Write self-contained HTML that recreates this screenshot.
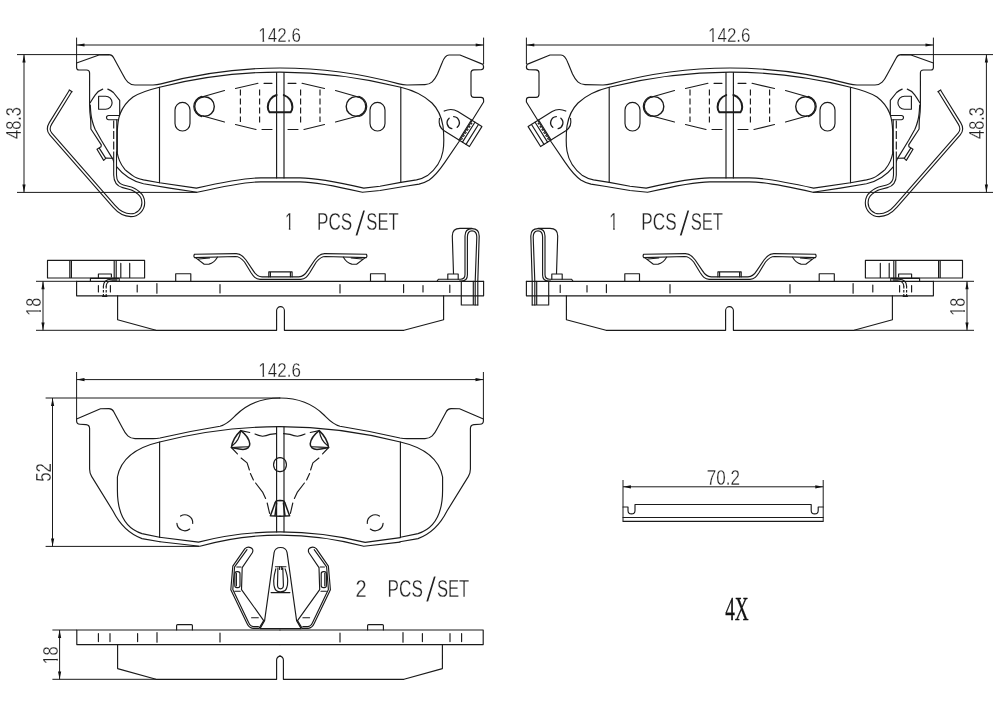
<!DOCTYPE html>
<html lang="en">
<head>
<meta charset="utf-8">
<title>Brake pad drawing</title>
<style>
html,body{margin:0;padding:0;background:#fff;}
body{width:1000px;height:707px;overflow:hidden;}
svg{display:block;}
.ln{fill:none;stroke:#1a1a1a;stroke-width:1.15;stroke-linecap:round;stroke-linejoin:round;}
.thin{fill:none;stroke:#1a1a1a;stroke-width:1;}
.thk{fill:none;stroke:#1c1c1c;stroke-width:1.9;stroke-linejoin:round;stroke-linecap:round;}
.dsh{fill:none;stroke:#1a1a1a;stroke-width:1.15;stroke-dasharray:6 3;}
.wo{fill:none;stroke:#1a1a1a;stroke-width:3.9;stroke-linecap:butt;stroke-linejoin:round;}
.wi{fill:none;stroke:#fff;stroke-width:1.7;stroke-linecap:butt;stroke-linejoin:round;}
.ar{fill:#111;stroke:none;}
text{font-family:"Liberation Sans",sans-serif;fill:#222;stroke:#fff;paint-order:fill stroke;stroke-linejoin:round;}
.ser{font-family:"Liberation Serif",serif;fill:#111;stroke:#111;stroke-width:.3;}
</style>
</head>
<body>
<svg width="1000" height="707" viewBox="0 0 1000 707">
<rect x="0" y="0" width="1000" height="707" fill="#fff"/>
<defs>
<!-- ================= PAD A : FRONT VIEW ================= -->
<g id="padA">
  <!-- backing plate outline -->
  <path class="ln" d="M76.6,63 L99,55 L109,54.6 Q112,54.6 113.5,57.5 L122.5,74 C126,81 129,85 135,85 L153,85 Q157,85 161,83.9 A453,453 0 0 1 399,83.9 Q403,85 407,85 L425,84.6 C431,84.6 434,81 437.5,74 L442,63 Q445,55 449,55 L460,55 L483,64.4 L483.6,67 Q483.6,69.6 481,69.8 L474,69.9 Q471,69.9 471,73 L471,94.2 Q471,97.3 474,97.3 L481,97.4 Q483.6,97.5 483.6,100 L483.6,102 L458.9,141.7 L444.5,162.9 C440,169.5 435,176 429.2,179.9 C425,182.5 421,183.6 419,184.1 L405.4,186.2 L380,190.5 L362.4,192.3 Q318,181.8 300.1,181.8 L260.8,181.8 Q243,181.8 197.1,192.3 L169.7,188.1 L143.5,183.7 C134,181.5 124,176 116.3,166.3 Q113.5,162 112.4,158.2 L106,158.1 L103.7,160.4 L97,149.2 L101,146.8 L101.3,144.9 L90.9,129 L90.7,120 Q89.6,112 89.6,105 L89.6,73 Q89.6,70 86.5,70 L79,70 Q76.6,70 76.6,67.5 Z"/>
  <!-- friction material outline -->
  <path class="ln" d="M159.5,87.2 A495,495 0 0 1 400.8,87.3 C414,90.5 425,96.5 432,103 C438,109 441.5,117 443,126 Q443.8,133 443.8,140 Q443.8,146 443,151 C441.5,160 436,169 427.5,175.6 C423,178.6 419,179.4 416.5,179.9 L400.8,182.4 L380,186.2 L363.8,188.1 Q319,177.9 300.1,177.9 L260.8,177.9 Q242,177.9 196.4,188.1 L159.5,182.7 L143.5,179.9 C138,178.6 135,177.4 132.7,175.6 C129,172.8 127,171.5 125,169.6 C122.5,166.5 120.8,164 119.6,160.9 Q118,157 117.3,153.3 L117.3,131 C117.6,124 118.6,118 120,114 C122.5,107.5 127,101.5 133,97 C139,93 148,90 159.5,87.2 Z"/>
  <!-- segment lines -->
  <path class="ln" d="M159.5,87.2 V182.7 M400.8,87.3 V182.5 M276.6,72.5 V177.9 M284,72.5 V177.9"/>
  <!-- stadium slots -->
  <rect class="ln" x="175" y="102.4" width="15" height="28.6" rx="7.5" ry="7.5"/>
  <rect class="ln" x="370" y="102.4" width="15" height="28.6" rx="7.5" ry="7.5"/>
  <!-- circles -->
  <circle class="ln" cx="204.5" cy="106.5" r="9.8" style="stroke-width:1.4"/>
  <circle class="ln" cx="356" cy="106.4" r="9.8" style="stroke-width:1.4"/>
  <path class="ln" d="M201.7,96.4 A10.4,10.4 0 0 0 201.7,116.6 M358.8,96.3 A10.4,10.4 0 0 1 358.8,116.5"/>
  <!-- hidden spring outline (long dashes) -->
  <path class="ln" d="M200,97.5 L224.5,90.5 M235.5,88.5 L258,83.3 M264,83.3 H272 M288,83.3 H296 M302,83.3 L324.5,88.5 M335.5,90.5 L360,97.5
                     M203,116 L224.5,122 M235.5,124.5 L256,129.5 M262,129.5 H272 M288,129.5 H298 M304,129.5 L324.5,124.5 M335.5,122 L358,116"/>
  <path class="dsh" d="M240.4,89.5 V122 M259.6,89.5 V125.5 M300.6,89.5 V125.5 M320,89.5 V122"/>
  <!-- D hole centre -->
  <path class="thk" style="stroke-width:2" d="M276.6,95 A12.3,12.5 0 0 0 267.8,107 Q267.8,110.4 269.6,112.3 L290.6,112.3 Q292.4,110.4 292.4,107 A12.3,12.5 0 0 0 283.8,95.1"/>
  <!-- left clip (hidden) + D + tabs -->
  <path class="ln" d="M90.2,102.7 Q93,98 95.3,94.8 Q98.5,90.5 102.7,89.1 M107.8,89.1 Q111,90.3 113.4,92.5 L119.7,100.4 L119.7,114.6"/>
  <path class="ln" d="M90.3,105 C90.6,112 91.2,117 92,120 Q93.2,125 95.1,129.3 L101.3,140.2 L112.2,158.1"/>
  <path class="ln" d="M99.4,148.4 L105.6,158.1"/>
  <path class="ln" d="M98.6,96.2 V109.2 H105.6 A6.5,6.5 0 0 0 105.6,96.2 Z"/>
  <path class="ln" d="M119.2,115.5 H108.6 A2.1,2.1 0 0 0 108.6,119.7 H117.4"/>
  <path class="dsh" style="stroke-dasharray:8 2.5" d="M113.7,120.5 V151"/>
  <path class="ln" d="M116.8,119.7 V152"/>
  <!-- spring wire -->
  <path class="wo" d="M70.7,90.8 L50.5,123.4 Q46.8,129.4 50.8,134 L114,206.3 C118.5,211.5 124,215.2 130.8,215.2 A12.5,12.5 0 0 0 143.3,202.7 A12.5,12.5 0 0 0 138.8,193.1 C136.5,191.2 134,189.2 131,188.4 L123,186.3 C118,185 115.2,182 115.1,175 L115.1,151.5"/>
  <path class="wi" d="M70.7,90.8 L50.5,123.4 Q46.8,129.4 50.8,134 L114,206.3 C118.5,211.5 124,215.2 130.8,215.2 A12.5,12.5 0 0 0 143.3,202.7 A12.5,12.5 0 0 0 138.8,193.1 C136.5,191.2 134,189.2 131,188.4 L123,186.3 C118,185 115.2,182 115.1,175 L115.1,151"/>
  <path class="ln" d="M69.3,89.9 L72.1,91.7"/>
  <!-- right clip -->
  <g transform="translate(456.6,110.8) rotate(32)">
    <path class="ln" d="M29.8,0 H1.5 Q-6,0 -10.4,6.8 M-10.6,15.4 Q-7.5,23.5 0,23.5 H29.8 V0"/>
    <path class="ln" d="M17.4,0 V23.5 M21.6,0 V23.5 M25.8,0 V23.5"/>
    <path class="dsh" style="stroke-dasharray:2 1.6" d="M19.5,2 V22"/>
    <path class="ln" style="stroke-width:1.3" d="M5.4,17.6 A6,6 0 0 1 -2.4,10.2 M0.6,6.5 A6,6 0 0 1 9.2,13.6"/>
  </g>
</g>

<!-- ================= PAD A : SIDE VIEW ================= -->
<g id="sideA">
  <!-- backing plate -->
  <path class="ln" d="M76.6,281.3 V295.8 H483.6 V281.3"/>
  <path class="ln" d="M76.6,281.3 H483.6"/>
  <!-- friction block -->
  <path class="ln" d="M117.6,295.8 V319.8 L156,330.3 H276.6 V310.6 A3.9,3.9 0 0 1 284.4,310.6 V330.3 H404 L443.6,319.8 V295.8"/>
  <!-- ticks -->
  <path class="ln" d="M98.4,285.5 V292 M110.4,285.5 V292 M137.2,285 V292 M156.9,283.5 V293.2 M220,284.6 V293 M340,284.6 V293 M403.6,284.6 V292.6 M423,285.5 V292 M449.8,285 V292.4"/>
  <!-- left top block -->
  <path class="ln" d="M47.5,260.4 H144.6 V278 H47.5 Z M69.8,260.4 V278 M71.4,260.4 V278 M114.2,260.4 V278 M116.2,260.4 V278 M120.8,263.4 V278 M129.7,263.4 V278"/>
  <path class="ln" d="M98.4,278 V274 H111.4 V277"/>
  <path class="ln" d="M90.4,281.3 V278.4 H119.2 V281.3"/>
  <!-- hook -->
  <path class="ln" d="M117,279.2 H111 Q103.6,279.6 103.4,286 M117,280.8 H112.5 Q106.4,281.2 106.2,286"/>
  <path class="dsh" style="stroke-dasharray:2.5 1.5" d="M103.4,286 V296 M106.2,286 V296"/>
  <path class="ln" d="M102.6,296.4 H106.8"/>
  <!-- small boxes -->
  <path class="ln" d="M175.7,281.3 V273.7 H190.8 V281.3"/>
  <path class="ln" d="M370.5,281.3 V273.7 H385.2 V281.3"/>
  <path class="ln" d="M268.8,276.8 V271.9 H292.1 V276.8 M270.4,271.9 V276.8 M290.4,271.9 V276.8"/>
  <!-- anti-rattle spring (side) -->
  <path class="ln" d="M194.6,254.2 L236.2,253.6 C241,253.6 243.5,256.5 246,260 L253,270.4 C255.5,274.5 257.5,276.8 262,276.8 L298.8,276.8 C303.3,276.8 305.3,274.5 307.8,270.4 L314.8,260 C317.3,256.5 319.8,253.6 324.6,253.6 L366.2,254.2 Q367.6,255.9 366.2,257.6 L325.3,256.5 C321.3,256.5 318.8,259 316.3,262 L309.9,272.5 C307.3,276.5 305.3,279.3 300.8,279.3 L260,279.3 C255.5,279.3 253.5,276.5 250.9,272.5 L244.5,262 C242,259 239.5,256.5 235.5,256.5 L194.6,257.6 Q193.2,255.9 194.6,254.2 Z"/>
  <path class="ln" d="M195.8,257.9 L204.2,264.2 L209,264.1 Q214,263 217.4,257.2 M198.6,259 L209.5,258"/>
  <path class="ln" d="M365,257.9 L356.6,264.2 L351.8,264.1 Q346.8,263 343.4,257.2 M362.2,259 L351.3,258"/>
  <!-- right clip (side) -->
  <path class="ln" d="M453.5,273.6 L452.3,236 Q452.3,228.4 460,228.4 L472,228.4"/>
  <path class="ln" d="M437,281.3 L438.4,279.2 H460.5 Q465,279.2 465,274.5 L465,236 Q465,228.6 472,228.6 Q479.2,228.6 479.2,236 L477.8,281.3 V305"/>
  <path class="ln" d="M459.5,281 H461.5 Q467.4,281 467.4,275 L467.4,237 Q467.4,230.8 472,230.8 Q476.8,230.8 476.8,237 L475.2,281.3 V305"/>
  <path class="ln" d="M447.8,279.2 V274 H458.2 V279.2"/>
  <path class="ln" d="M461.3,281.3 V305 H477.8 M473.3,281.3 V305"/>
</g>

<!-- ================= PAD C : FRONT VIEW (left half, mirrored) ================= -->
<g id="padChalf">
  <!-- backing plate half outline: from top centre to bottom centre -->
  <path class="ln" d="M280,398 C264,398 248,403 236,415 C231,420 227,424.6 220,426.2 Q190,431 160,438 Q157,438.6 153,438.6 L135,438.6 C129,438.6 126,435 122.5,428 L113.6,411.4 Q112,408.6 109,408.6 L100.5,408.8 L76.6,419 L76.6,421 Q76.6,424 80,424.2 L86,424.6 Q89.6,425 89.6,428.4 L89.6,469 Q89.6,473 91.6,476.4 L113,511 C119,523 127,533 142,538.6 L160,541.7"/>
  <!-- friction half -->
  <path class="ln" d="M280,426.6 Q220,426.6 159.6,442 C136,447.5 121,458 117.4,477 L117.4,490 C117.4,512 124,528 142,533.6 L159.6,537.3"/>
  <path class="ln" d="M159.6,442 V537.3"/>
  <!-- C circle -->
  <path class="ln" d="M180.6,516.1 A7.9,7.9 0 0 1 192.7,523.4 M189.7,529.0 A7.9,7.9 0 0 1 176.9,523.4"/>
  <!-- bull head: ear -->
  <path class="thk" style="stroke-width:1.5" d="M240.8,430.6 C244,433 249,438 249.8,443.8 C250,447 247,449.4 243,449.4 C239,449.2 235,448.2 231.4,447.5 C232,443 235,436 240.8,430.6 Z"/>
  <path class="ln" d="M240.5,431.6 C239.8,437 237,442 232.5,445.6 M231.4,447.5 L240,447.1 L248.3,446.8"/>
  <!-- dashed top & side -->
  <path class="ln" d="M240.8,430.6 L249.8,432.5 M255,434 Q258.5,435.6 262.5,436.3 Q266,435.8 270,434.4 L276.4,433.6"/>
  <path class="ln" d="M231.4,447.5 L237.4,453.9 M241.1,458 L247.1,462.9 L249.4,470 M250.4,473.5 L253.4,480 M255.6,483 L262.8,492.4 L265.6,498.4 M267.2,503 L269.6,513.4"/>
  <!-- small centre circle (half) -->
  <path class="ln" d="M280,457.6 Q276.4,457.6 274.4,461 Q272.6,465 274.6,468.8 Q276.6,471.6 280,471.6"/>
  <!-- bottom trapezoid -->
  <path class="thk" style="stroke-width:1.5" d="M280,500.6 L277,500.8 Q275.6,501 275.2,502.6 L270.4,515.8 L280,516.2 M276.6,503 L275,515.8"/>
</g>
<g id="padC">
  <path class="ln" d="M160,541.7 L199.9,546.3 Q239,535.1 280.4,535.1 Q322,535.1 363.8,546.3 L400,542.1"/>
  <path class="ln" d="M159.6,537.3 L198.5,542.1 Q238,531.9 280.4,531.9 Q323,531.9 365.2,542.4 L400.4,537.6"/>
  <path class="ln" d="M276.6,426.7 V532 M284,426.7 V532"/>
  <use href="#padChalf"/>
  <use href="#padChalf" transform="translate(560,0) scale(-1,1)"/>
</g>
<!-- ================= PAD C : SIDE VIEW ================= -->
<g id="sideChalf">
  <path class="ln" d="M280,630 H76.8 V644.6 H280"/>
  <path class="ln" d="M117.6,644.6 V668.6 L156,679.3 H276.6 V660 A3.9,3.9 0 0 1 280.5,656.1"/>
  <path class="ln" d="M98.4,633.6 V641.6 M110,633.6 V641.6 M137.6,633.6 V641.6 M157,632.6 V642.2 M220,633 V642"/>
  <path class="ln" d="M176.6,630 V625.6 Q176.6,624.6 177.6,624.6 H191.4 Q192.4,624.6 192.4,625.6 V630"/>
</g>
<g id="sideC">
  <use href="#sideChalf"/>
  <use href="#sideChalf" transform="translate(560,0) scale(-1,1)"/>
</g>
<!-- ================= SPRING CLIP (3-prong) ================= -->
<g id="clipHalf">
  <path class="ln" d="M244.9,548.7 L232.8,566.2 L230.8,589.7 L246.9,623.3 Q249,628 253,628.4 L259,628.4 L263.7,620.6 L241.5,589.7 L242.2,567.6 L252.3,552.8 Q254,549 250.6,547.6 Q247.4,546.4 244.9,548.7 Z"/>
  <path class="ln" d="M247,549.6 L234.6,566.8 L232.8,589.4 L248.6,622.4 Q250,626.4 253.6,626.6 L258.4,626.6"/>
  <rect class="ln" x="234.8" y="571.6" width="5.2" height="16" rx="2.2" ry="2.2"/>
  <path class="ln" d="M236.4,573.4 V585.8"/>
  <path class="ln" d="M236.8,567 H241 M234.8,591.2 H240.2 M251.6,617.7 H258.3"/>
  </g>
<g id="clipMid">
  <path class="ln" d="M260,628.6 L264.6,620.6 L274.1,552.6 Q275,547.5 280.6,547.5 Q286.2,547.5 287.1,552.6 L296.6,620.6 L301.2,628.6 Z"/>
  <path class="ln" d="M275.4,566.7 H286 M271.1,592.6 H289.9"/>
  <path class="ln" d="M275.8,568.9 C274.6,573 273.7,577 273.7,580.7 Q273.7,585 274.5,587.5 Q275.6,591.8 280.6,591.8 Q285.8,591.8 286.8,587.5 Q287.7,585 287.7,580.7 C287.7,577 286.6,573 285.1,568.9"/>
  <path class="ln" d="M277.9,568 L277.5,585 Q277.6,588.8 280.5,588.8 Q283.4,588.8 283.4,585 L282.8,568 M279.6,566.7 V569.4 M281.7,566.7 V569.4"/>
</g>
<g id="clip3">
  <use href="#clipHalf"/>
  <use href="#clipHalf" transform="translate(561.2,0) scale(-1,1)"/>
  <use href="#clipMid"/>
</g>
</defs>

<use href="#padA"/>
<use href="#sideA"/>
<use href="#sideA" transform="translate(1010,0) scale(-1,1)"/>
<use href="#padA" transform="translate(1010,0) scale(-1,1)"/>

<!-- ================= DIMENSIONS : TOP ROW ================= -->
<g id="dimsTop">
  <!-- 142.6 left -->
  <path class="thin" d="M76.6,37.6 V63 M483.6,37.6 V64 M76.6,45 H483.6"/>
  <path class="ar" d="M76.6,45 L84.5,43.4 L84.5,46.6 Z M483.6,45 L475.7,43.4 L475.7,46.6 Z"/>
  <!-- 142.6 right -->
  <path class="thin" d="M526.4,37.6 V64 M933.4,37.6 V63 M526.4,45 H933.4"/>
  <path class="ar" d="M526.4,45 L534.3,43.4 L534.3,46.6 Z M933.4,45 L925.5,43.4 L925.5,46.6 Z"/>
  <!-- 48.3 left -->
  <path class="thin" d="M17,54.6 H109 M17,192.4 H197 M24,54.6 V192.4"/>
  <path class="ar" d="M24,54.6 L22.4,62.5 L25.6,62.5 Z M24,192.4 L22.4,184.5 L25.6,184.5 Z"/>
  <!-- 48.3 right -->
  <path class="thin" d="M993,54.6 H901 M993,192.4 H813 M986.4,54.6 V192.4"/>
  <path class="ar" d="M986.4,54.6 L984.8,62.5 L988,62.5 Z M986.4,192.4 L984.8,184.5 L988,184.5 Z"/>
</g>

<g id="dimsSideTop">
  <path class="thin" d="M36,281.3 H76.6 M36,330.3 H156 M43,281.3 V330.3"/>
  <path class="ar" d="M43,281.3 L41.4,289.2 L44.6,289.2 Z M43,330.3 L41.4,322.4 L44.6,322.4 Z"/>
  <path class="thin" d="M974,281.3 H933.4 M974,330.3 H854 M967,281.3 V330.3"/>
  <path class="ar" d="M967,281.3 L965.4,289.2 L968.6,289.2 Z M967,330.3 L965.4,322.4 L968.6,322.4 Z"/>
</g>

<use href="#padC"/>
<use href="#sideC"/>
<use href="#clip3"/>
<!-- ================= DIMENSIONS : BOTTOM ================= -->
<g id="dimsBottom">
  <path class="thin" d="M76.6,372 V419 M483.4,372 V419 M76.6,379.6 H483.4"/>
  <path class="ar" d="M76.6,379.6 L84.5,378 L84.5,381.2 Z M483.4,379.6 L475.5,378 L475.5,381.2 Z"/>
  <path class="thin" d="M45.6,398 H280 M45.6,546.4 H199 M52.5,398 V546.4"/>
  <path class="ar" d="M52.6,398 L51,405.9 L54.2,405.9 Z M52.6,546.4 L51,538.5 L54.2,538.5 Z"/>
  <path class="thin" d="M52.4,630 H77 M52.4,679.3 H156 M59.6,630 V679.3"/>
  <path class="ar" d="M59.6,630 L58,637.9 L61.2,637.9 Z M59.6,679.3 L58,671.4 L61.2,671.4 Z"/>
</g>
<!-- ================= SHIM 70.2 ================= -->
<g id="shim">
  <path class="thin" d="M623,480 V521.3 M823.2,480 V521.3 M623,486.8 H823.2"/>
  <path class="ar" d="M623,486.8 L630.9,485.2 L630.9,488.4 Z M823.2,486.8 L815.3,485.2 L815.3,488.4 Z"/>
  <path class="ln" d="M623,507 H628 V510.4 A3.5,3.5 0 0 0 635,510.4 V504.5 H811.2 V510.4 A3.5,3.5 0 0 0 818.2,510.4 V507 H823.2"/>
  <path class="ln" d="M623,517.5 H823.2 M623,521.3 H823.2"/>
</g>

<!-- ================= TEXT ================= -->
<g id="labels" style="filter:grayscale(1)">
  <text class="t" x="258.31" y="42.30" font-size="21.07" textLength="42.54" lengthAdjust="spacingAndGlyphs" style="stroke-width:0.3">142.6</text><rect x="259.00" y="39.73" width="3.46" height="3.17" fill="#fff"/><rect x="264.20" y="39.73" width="3.33" height="3.17" fill="#fff"/>
  <text class="t" x="708.01" y="42.30" font-size="21.07" textLength="42.54" lengthAdjust="spacingAndGlyphs" style="stroke-width:0.3">142.6</text><rect x="708.70" y="39.73" width="3.46" height="3.17" fill="#fff"/><rect x="713.90" y="39.73" width="3.33" height="3.17" fill="#fff"/>
  <text class="t" x="258.31" y="377.00" font-size="21.07" textLength="42.54" lengthAdjust="spacingAndGlyphs" style="stroke-width:0.3">142.6</text><rect x="259.00" y="374.43" width="3.46" height="3.17" fill="#fff"/><rect x="264.20" y="374.43" width="3.33" height="3.17" fill="#fff"/>
  <text class="t" transform="translate(21.40,138.60) rotate(-90)" x="-0.38" y="0" font-size="21.93" textLength="31.90" lengthAdjust="spacingAndGlyphs" style="stroke-width:0.3">48.3</text>
  <text class="t" transform="translate(983.70,138.60) rotate(-90)" x="-0.38" y="0" font-size="21.93" textLength="31.90" lengthAdjust="spacingAndGlyphs" style="stroke-width:0.3">48.3</text>
  <text class="t" transform="translate(40.80,314.60) rotate(-90)" x="-1.24" y="0" font-size="22.51" textLength="18.15" lengthAdjust="spacingAndGlyphs" style="stroke-width:0.3">18</text><g transform="translate(40.80,314.60) rotate(-90)"><rect x="-0.60" y="-2.68" width="3.34" height="3.28" fill="#fff"/><rect x="4.42" y="-2.68" width="3.21" height="3.28" fill="#fff"/></g>
  <text class="t" transform="translate(964.80,314.60) rotate(-90)" x="-1.24" y="0" font-size="22.51" textLength="18.15" lengthAdjust="spacingAndGlyphs" style="stroke-width:0.3">18</text><g transform="translate(964.80,314.60) rotate(-90)"><rect x="-0.60" y="-2.68" width="3.34" height="3.28" fill="#fff"/><rect x="4.42" y="-2.68" width="3.21" height="3.28" fill="#fff"/></g>
  <text class="t" transform="translate(50.50,481.20) rotate(-90)" x="-0.67" y="0" font-size="22.51" textLength="18.72" lengthAdjust="spacingAndGlyphs" style="stroke-width:0.3">52</text>
  <text class="t" transform="translate(57.70,663.30) rotate(-90)" x="-1.25" y="0" font-size="22.51" textLength="18.26" lengthAdjust="spacingAndGlyphs" style="stroke-width:0.3">18</text><g transform="translate(57.70,663.30) rotate(-90)"><rect x="-0.60" y="-2.68" width="3.36" height="3.28" fill="#fff"/><rect x="4.45" y="-2.68" width="3.23" height="3.28" fill="#fff"/></g>
  <text class="t" x="706.72" y="484.80" font-size="22.94" textLength="33.23" lengthAdjust="spacingAndGlyphs" style="stroke-width:0.3">70.2</text>
  <text class="t" x="285.00" y="230.40" font-size="24.39" textLength="8.77" lengthAdjust="spacingAndGlyphs" style="stroke-width:0.3">1</text><rect x="285.60" y="227.58" width="3.24" height="3.42" fill="#fff"/><rect x="290.48" y="227.58" width="3.12" height="3.42" fill="#fff"/>
  <text class="t" y="230.40" font-size="24.39" style="stroke-width:0.3"><tspan x="316.99" textLength="35.30" lengthAdjust="spacingAndGlyphs">PCS</tspan><tspan x="354.80" dy="5.2" font-size="34.56" style="stroke-width:1.0" textLength="11.00" lengthAdjust="spacingAndGlyphs">/</tspan><tspan x="366.34" dy="-5.2" textLength="32.34" lengthAdjust="spacingAndGlyphs">SET</tspan></text>
  <text class="t" x="609.30" y="230.40" font-size="24.39" textLength="8.77" lengthAdjust="spacingAndGlyphs" style="stroke-width:0.3">1</text><rect x="609.90" y="227.58" width="3.24" height="3.42" fill="#fff"/><rect x="614.78" y="227.58" width="3.12" height="3.42" fill="#fff"/>
  <text class="t" y="230.40" font-size="24.39" style="stroke-width:0.3"><tspan x="641.29" textLength="35.30" lengthAdjust="spacingAndGlyphs">PCS</tspan><tspan x="679.10" dy="5.2" font-size="34.56" style="stroke-width:1.0" textLength="11.00" lengthAdjust="spacingAndGlyphs">/</tspan><tspan x="690.64" dy="-5.2" textLength="32.34" lengthAdjust="spacingAndGlyphs">SET</tspan></text>
  <text class="t" x="355.50" y="596.70" font-size="24.39" textLength="11.11" lengthAdjust="spacingAndGlyphs" style="stroke-width:0.3">2</text>
  <text class="t" y="596.70" font-size="24.39" style="stroke-width:0.3"><tspan x="387.59" textLength="35.30" lengthAdjust="spacingAndGlyphs">PCS</tspan><tspan x="425.40" dy="5.2" font-size="34.56" style="stroke-width:1.0" textLength="11.00" lengthAdjust="spacingAndGlyphs">/</tspan><tspan x="436.94" dy="-5.2" textLength="32.34" lengthAdjust="spacingAndGlyphs">SET</tspan></text>
  <text class="ser" x="725.22" y="620.20" font-size="34.59" textLength="23.52" lengthAdjust="spacingAndGlyphs" style="stroke-width:0.3">4X</text>
</g>

</svg>
</body>
</html>
